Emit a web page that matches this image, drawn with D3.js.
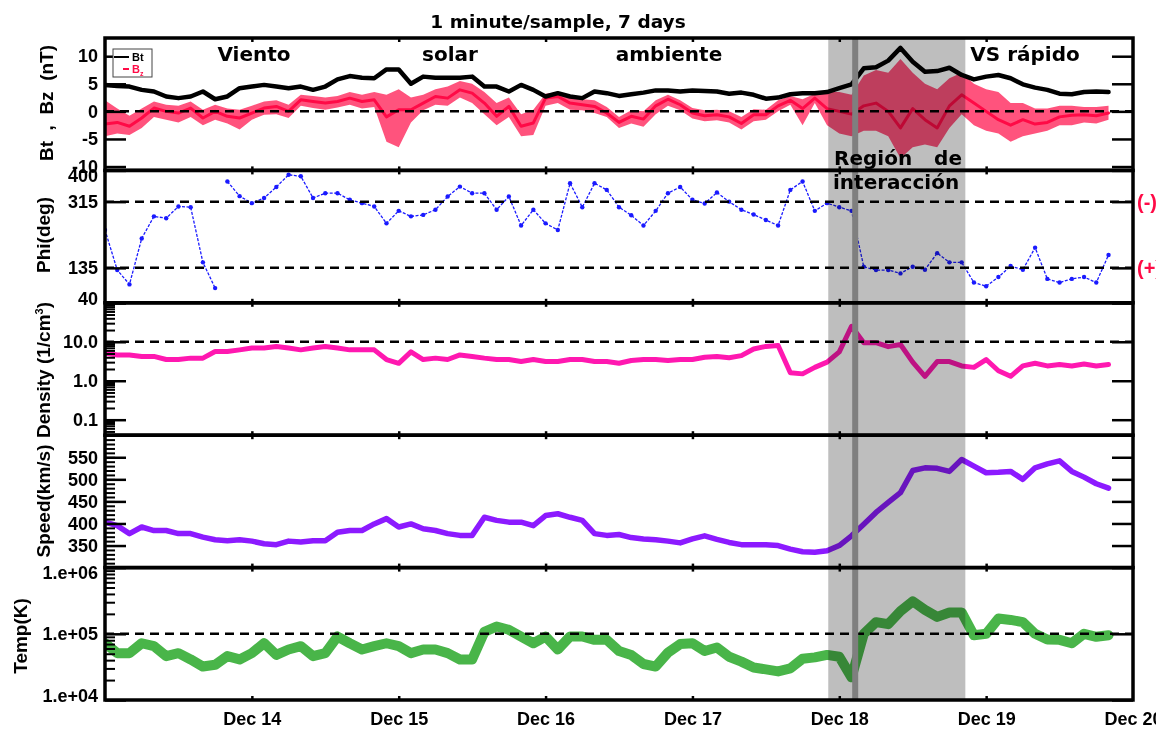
<!DOCTYPE html>
<html>
<head>
<meta charset="utf-8">
<script src="https://cdn.jsdelivr.net/npm/d3@7"></script>
<style>
body { margin: 0; background: #fff; }
svg { display: block; }
.tick text { font-family: 'Liberation Sans', Arial, sans-serif; font-weight: bold; font-size: 18px; fill: #000; }
.ytitle { font-family: 'Liberation Sans', Arial, sans-serif; font-weight: bold; font-size: 19px; white-space: pre; }
.note { font-family: 'DejaVu Sans', sans-serif; font-weight: bold; font-size: 20px; fill: #000; }
</style>
</head>
<body>
<script>
// hours since Dec 13 00:00, one reading every 2 hours
var hours = d3.range(0, 165, 2);

var bt = [4.8, 4.6, 4.5, 3.9, 3.6, 2.7, 2.4, 2.7, 3.6, 2.2,
    2.7, 4.2, 4.5, 4.8, 4.5, 4.2, 4.5, 3.9, 4.5, 5.8,
    6.4, 6.1, 6.0, 7.6, 7.6, 5.0, 6.3, 6.1, 6.1, 6.1,
    6.3, 4.5, 4.5, 3.6, 4.8, 3.9, 2.7, 3.3, 2.7, 2.4,
    3.6, 3.3, 2.8, 3.1, 3.4, 3.8, 3.8, 3.6, 3.8, 3.7,
    3.6, 3.2, 3.4, 3.0, 2.3, 2.5, 3.1, 3.3, 3.3, 3.5,
    4.2, 4.9, 7.8, 8.0, 9.2, 11.5, 9.0, 7.2, 7.3, 7.9,
    6.6, 5.8, 6.3, 6.6, 6.0, 4.9, 4.3, 3.9, 3.2, 3.1,
    3.5, 3.6, 3.5];

var bz = [-2.3, -2.0, -2.7, -1.2, 0.6, 0, -0.3, 0.6, -1.2, 0,
    -0.9, -1.2, -0.3, 0.6, 0.9, 0, 2.1, 1.8, 1.5, 1.8,
    2.4, 1.8, 2.1, -1.0, 0.3, 0.3, 1.5, 2.7, 2.4, 3.9,
    3.3, 1.5, -0.9, 0.9, -2.7, -2.1, 2.4, 2.7, 1.5, 1.2,
    0.9, -0.3, -2.0, -0.9, -1.4, 1.0, 2.2, 1.2, -0.3, -0.8,
    -0.6, -1.0, -2.2, -0.6, -0.6, 1.0, 2.0, 0.5, 2.4, 0.5,
    0.0, -0.5, 1.0, 1.5, 0.0, -3.0, 0.5, -1.5, -3.0, 1.0,
    3.0, 1.5, 0.0, -1.5, -2.5, -1.5, -2.3, -2.0, -1.0, -0.7,
    -0.6, -0.8, -0.3];

// lowest and highest Bz of the scatter in each 2 hour bin
var bzLow = [-4.5, -4.0, -4.3, -3.0, -1.0, -1.5, -2.0, -1.0, -2.5, -1.5,
    -2.2, -3.3, -1.5, -0.6, -0.5, -1.2, 1.0, 0.6, 0.3, 0.7,
    1.2, 0.5, 0.8, -5.5, -6.5, -2.0, 0.2, 1.2, 1.0, 2.5,
    1.5, -0.5, -2.5, -1.0, -4.5, -4.3, 1.0, 1.5, 0.3, 0.2,
    -0.3, -1.0, -3.0, -2.2, -2.8, -0.5, 1.0, 0.2, -1.3, -1.8,
    -1.6, -2.0, -3.3, -1.8, -1.5, 0, 1.2, -2.5, 1.5, -2.5,
    -4.0, -4.5, -3.5, -3.5, -4.5, -8.5, -6.5, -6.0, -6.5, -3.0,
    -0.5, -2.5, -3.5, -4.0, -5.5, -4.5, -4.0, -3.5, -2.5, -2.5,
    -2.0, -2.2, -1.5];

var bzHigh = [2.0, 0.5, -0.8, 0.5, 1.8, 1.2, 1.0, 1.8, 0.3, 1.2,
    0.5, 0.3, 1.0, 1.8, 2.0, 1.2, 3.0, 2.8, 2.5, 2.8,
    3.5, 3.0, 3.5, 3.0, 4.0, 2.5, 3.0, 4.0, 4.5, 5.5,
    5.0, 3.5, 1.5, 2.5, -0.5, 0.3, 3.2, 3.5, 2.5, 2.2,
    2.0, 0.8, -1.0, 0.2, 0, 2.0, 3.0, 2.0, 0.6, 0.2,
    0.3, 0, -1.0, 0.4, 0.3, 2.0, 2.8, 2.2, 3.2, 3.5,
    3.5, 3.0, 6.5, 7.5, 7.0, 9.5, 7.0, 5.0, 4.0, 6.0,
    7.0, 5.0, 4.0, 3.5, 1.5, 1.5, 0.5, 0.5, 1.0, 1.0,
    0.8, 0.8, 1.0];

var phi = [238, 129, 90, 215, 275, 270, 302, 300, 150, 80,
    370, 330, 311, 325, 355, 388, 384, 325, 338, 338,
    320, 311, 302, 256, 290, 275, 279, 293, 329, 356,
    338, 338, 293, 329, 250, 293, 256, 238, 365, 300,
    365, 347, 300, 278, 250, 290, 338, 355, 320, 310,
    340, 315, 293, 280, 265, 250, 347, 370, 290, 311,
    300, 290, 138, 129, 129, 120, 138, 130, 175, 150,
    150, 95, 85, 110, 140, 130, 190, 105, 95, 105,
    110, 95, 170];

var density = [5.1, 4.6, 4.6, 4.2, 4.2, 3.5, 3.5, 3.8, 3.8, 5.6,
    5.6, 6.2, 6.9, 6.9, 7.6, 6.9, 6.2, 6.9, 7.6, 6.9,
    6.2, 6.2, 6.2, 3.5, 2.8, 5.5, 3.5, 3.8, 3.5, 4.6,
    4.2, 3.8, 3.5, 3.5, 3.1, 3.5, 3.1, 3.1, 3.5, 3.5,
    3.1, 3.1, 2.8, 3.3, 3.5, 3.5, 3.3, 3.5, 3.5, 4.0,
    4.2, 3.9, 4.4, 6.5, 7.6, 8.0, 1.6, 1.5, 2.2, 3.0,
    5.5, 25, 9.5, 9.5, 7.5, 8.5, 3.0, 1.3, 3.1, 3.1,
    2.4, 2.2, 3.5, 1.8, 1.3, 2.4, 2.8, 2.4, 2.6, 2.4,
    2.7, 2.4, 2.6];

var speed = [403, 395, 377, 392, 384, 384, 377, 377, 369, 363,
    361, 363, 360, 354, 352, 360, 358, 361, 361, 380,
    384, 384, 399, 411, 392, 399, 388, 384, 377, 373,
    373, 414, 407, 403, 403, 395, 418, 422, 414, 407,
    377, 373, 375, 368, 365, 363, 360, 356, 365, 372,
    364, 357, 352, 352, 352, 350, 342, 336, 335, 338,
    350, 372, 398, 425, 448, 470, 520, 526, 525, 518,
    545, 530, 515, 516, 518, 500, 526, 535, 542, 518,
    505, 490, 480];

var temp = [72000, 51000, 51000, 72000, 65000, 46000, 51000, 41000, 32000, 34000,
    46000, 41000, 51000, 72000, 48000, 58000, 65000, 46000, 51000, 91000,
    72000, 58000, 65000, 72000, 65000, 51000, 58000, 58000, 51000, 41000,
    41000, 107000, 129000, 115000, 91000, 72000, 91000, 58000, 91000, 91000,
    81000, 81000, 55000, 48000, 35000, 32000, 52000, 70000, 72000, 55000,
    62000, 45000, 38000, 31000, 29000, 27000, 30000, 42000, 44000, 48000,
    45000, 22000, 100000, 150000, 140000, 220000, 310000, 230000, 180000, 210000,
    210000, 95000, 100000, 170000, 162000, 150000, 100000, 82000, 81000, 72000,
    100000, 90000, 95000];

var dayHours = [24, 48, 72, 96, 120, 144, 168];
var dayLabels = ["Dec 14", "Dec 15", "Dec 16", "Dec 17", "Dec 18", "Dec 19", "Dec 20"];

// interaction region and the dark line inside it (hours)
var regionHours = [118.2, 140.6];
var lineHour = 122.6;

var W = 1156, H = 731;
var left = 105, right = 1133, top0 = 38, bottom = 700;
var ph = (bottom - top0) / 5;
function pTop(i) { return top0 + i * ph; }

var svg = d3.select("body").append("svg")
    .attr("width", W)
    .attr("height", H);

var x = d3.scaleLinear().domain([0, 168]).range([left, right]);

var yB = d3.scaleLinear().domain([-10.7, 13.3]).range([pTop(1), pTop(0)]);
var yPhi = d3.scaleLinear().domain([40, 400]).range([pTop(2), pTop(1)]);
var yDen = d3.scaleLog().domain([0.04, 100]).range([pTop(3), pTop(2)]);
var ySpd = d3.scaleLinear().domain([300, 600]).range([pTop(4), pTop(3)]);
var yTmp = d3.scaleLog().domain([1e4, 1e6]).range([bottom, pTop(4)]);

//clip each panel
var defs = svg.append("defs");
for (var i = 0; i < 5; i++) {
    defs.append("clipPath").attr("id", "clip" + i)
        .append("rect")
        .attr("x", left).attr("y", pTop(i))
        .attr("width", right - left).attr("height", ph);
}

var data = svg.append("g");

function pts(vals) {
    return vals.map(function(v, i){ return [hours[i], v]; });
}

function drawSeries(panel, vals, y, color, width, opacity) {
    data.append("path")
        .datum(pts(vals))
        .attr("clip-path", "url(#clip" + panel + ")")
        .attr("fill", "none")
        .attr("stroke", color)
        .attr("stroke-width", width)
        .attr("stroke-opacity", opacity || 1)
        .attr("stroke-linejoin", "round")
        .attr("stroke-linecap", "round")
        .attr("d", d3.line().x(function(d){ return x(d[0]); }).y(function(d){ return y(d[1]); }));
}

//Bz scatter band
var red = "#ff0a46";
data.append("path")
    .datum(hours.map(function(h, i){ return [h, bzLow[i], bzHigh[i]]; }))
    .attr("clip-path", "url(#clip0)")
    .attr("fill", red)
    .attr("fill-opacity", 0.7)
    .attr("d", d3.area()
        .x(function(d){ return x(d[0]); })
        .y0(function(d){ return yB(d[1]); })
        .y1(function(d){ return yB(d[2]); }));
drawSeries(0, bz, yB, red, 3);
drawSeries(0, bt, yB, "#000", 4.5);

//phi: break the line where the angle wraps round
var phiColor = "#1a1aff";
var segs = [], cur = [];
phi.forEach(function(v, i){
    if (cur.length && Math.abs(v - cur[cur.length - 1][1]) > 200) { segs.push(cur); cur = []; }
    cur.push([hours[i], v]);
});
segs.push(cur);
segs.forEach(function(s){
    data.append("path")
        .datum(s)
        .attr("clip-path", "url(#clip1)")
        .attr("fill", "none")
        .attr("stroke", phiColor)
        .attr("stroke-width", 1.3)
        .attr("stroke-dasharray", "3,1.5")
        .attr("d", d3.line().x(function(d){ return x(d[0]); }).y(function(d){ return yPhi(d[1]); }));
});
data.append("g").attr("clip-path", "url(#clip1)")
    .selectAll("circle")
    .data(pts(phi))
    .enter()
    .append("circle")
    .attr("cx", function(d){ return x(d[0]); })
    .attr("cy", function(d){ return yPhi(d[1]); })
    .attr("r", 2.2)
    .attr("fill", phiColor);

drawSeries(2, density, yDen, "#ff18b0", 5);
drawSeries(3, speed, ySpd, "#8c1aff", 5.5);
drawSeries(4, temp, yTmp, "#16a016", 10, 0.78);

//dashed reference lines
var refs = [[yB, 0], [yPhi, 315], [yPhi, 135], [yDen, 10], [yTmp, 1e5]];
refs.forEach(function(r){
    svg.append("line")
        .attr("x1", left).attr("x2", right)
        .attr("y1", r[0](r[1])).attr("y2", r[0](r[1]))
        .attr("stroke", "#000")
        .attr("stroke-width", 2.5)
        .attr("stroke-dasharray", "9,6");
});

//interaction region
svg.append("rect")
    .attr("x", x(regionHours[0]))
    .attr("y", top0)
    .attr("width", x(regionHours[1]) - x(regionHours[0]))
    .attr("height", bottom - top0)
    .attr("fill", "#bebebe")
    .style("mix-blend-mode", "multiply");
svg.append("line")
    .attr("x1", x(lineHour)).attr("x2", x(lineHour))
    .attr("y1", top0).attr("y2", bottom)
    .attr("stroke", "#7f7f7f")
    .attr("stroke-width", 6);

//axes
var panels = [
    {y: yB, major: [-10, -5, 0, 5, 10], minor: [], fmt: function(d){ return String(d); }},
    {y: yPhi, major: [40, 135, 315, 400], minor: [], fmt: function(d){ return String(d); }},
    {y: yDen, major: [0.1, 1, 10, 100], minor: [], fmt: function(d){ return d >= 100 ? "" : d3.format(".1f")(d); }},
    {y: ySpd, major: [350, 400, 450, 500, 550], minor: d3.range(300, 601, 10), fmt: function(d){ return String(d); }},
    {y: yTmp, major: [1e4, 1e5, 1e6], minor: [], fmt: function(d){ return "1.e+0" + Math.round(Math.log10(d)); }}
];
[[yDen, [0.01, 0.1, 1, 10]], [yTmp, [1e4, 1e5]]].forEach(function(p){
    var list = p[0] === yDen ? panels[2].minor : panels[4].minor;
    p[1].forEach(function(dec){
        for (var k = 2; k < 10; k++) {
            var v = dec * k;
            var dom = p[0].domain();
            if (v > dom[0] && v < dom[1]) list.push(v);
        }
    });
});

panels.forEach(function(p, i){
    var t = pTop(i), b = pTop(i + 1);

    var gl = svg.append("g").attr("transform", "translate(" + left + ",0)");
    gl.call(d3.axisLeft(p.y).tickValues(p.minor).tickSize(-10).tickFormat(""));
    gl.call(function(g){ g.selectAll("line").attr("stroke-width", 2); g.select(".domain").remove(); });

    var gm = svg.append("g").attr("transform", "translate(" + left + ",0)");
    gm.call(d3.axisLeft(p.y).tickValues(p.major).tickSize(-21).tickPadding(7).tickFormat(p.fmt));
    gm.select(".domain").remove();
    gm.selectAll("line").attr("stroke-width", 2.5);
    gm.selectAll(".tick text").attr("y", function(d){
        var yy = p.y(d);
        return Math.max(t + 5, Math.min(b - 4, yy)) - yy;
    });

    var gr = svg.append("g").attr("transform", "translate(" + right + ",0)");
    gr.call(d3.axisRight(p.y).tickValues(p.minor).tickSize(-10).tickFormat(""));
    gr.call(d3.axisRight(p.y).tickValues(p.major).tickSize(-21).tickFormat(""));
    gr.select(".domain").remove();
    gr.selectAll("line").attr("stroke-width", 2.5);

    //day ticks on top and bottom of each panel
    svg.append("g").attr("transform", "translate(0," + b + ")")
        .call(d3.axisBottom(x).tickValues(dayHours.slice(0, 6)).tickSize(-4).tickFormat(""))
        .call(function(g){ g.select(".domain").remove(); g.selectAll("line").attr("stroke-width", 2.5); });
    svg.append("g").attr("transform", "translate(0," + t + ")")
        .call(d3.axisTop(x).tickValues(dayHours.slice(0, 6)).tickSize(-4).tickFormat(""))
        .call(function(g){ g.select(".domain").remove(); g.selectAll("line").attr("stroke-width", 2.5); });

    svg.append("rect")
        .attr("x", left).attr("y", t)
        .attr("width", right - left).attr("height", ph)
        .attr("fill", "none")
        .attr("stroke", "#000")
        .attr("stroke-width", 3.5);
});

//date labels
svg.append("g").attr("transform", "translate(0," + bottom + ")")
    .call(d3.axisBottom(x).tickValues(dayHours).tickSize(0).tickPadding(12)
        .tickFormat(function(d, i){ return dayLabels[i]; }))
    .call(function(g){ g.select(".domain").remove(); });

//axis titles
function ytitle(xx, yy, txt) {
    return svg.append("text")
        .attr("class", "ytitle")
        .attr("transform", "translate(" + xx + "," + yy + ") rotate(-90)")
        .attr("text-anchor", "middle")
        .text(txt);
}
ytitle(53, 103, "Bt  ,  Bz  (nT)");
ytitle(50, 235, "Phi(deg)");
var dt = svg.append("text")
    .attr("class", "ytitle")
    .attr("transform", "translate(50,370) rotate(-90)")
    .attr("text-anchor", "middle");
dt.append("tspan").text("Density (1/cm");
dt.append("tspan").attr("dy", -7).style("font-size", "11px").text("3");
dt.append("tspan").attr("dy", 7).text(")");
ytitle(50, 501, "Speed(km/s)");
ytitle(27, 636, "Temp(K)");

//title
svg.append("text")
    .attr("x", 558).attr("y", 28)
    .attr("text-anchor", "middle")
    .style("font-family", "'DejaVu Sans', sans-serif")
    .style("font-weight", "bold")
    .style("font-size", "18.5px")
    .text("1 minute/sample, 7 days");

//annotations
function note(xx, yy, txt, anchor) {
    svg.append("text").attr("class", "note")
        .attr("x", xx).attr("y", yy)
        .attr("text-anchor", anchor || "middle")
        .text(txt);
}
note(254, 61, "Viento");
note(450, 61, "solar");
note(669, 61, "ambiente");
note(1025, 61, "VS rápido");
note(834, 165, "Región", "start");
note(962, 165, "de", "end");
note(833, 189, "interacción", "start");

[["(-)", yPhi(315)], ["(+)", yPhi(135)]].forEach(function(s){
    svg.append("text")
        .attr("x", 1137).attr("y", s[1] + 7)
        .style("font-family", "'Liberation Sans', Arial, sans-serif")
        .style("font-weight", "bold")
        .style("font-size", "20px")
        .attr("fill", red)
        .text(s[0]);
});

//legend
var lg = svg.append("g");
lg.append("rect")
    .attr("x", 113).attr("y", 49).attr("width", 39).attr("height", 28)
    .attr("fill", "#fff").attr("stroke", "#444").attr("stroke-width", 1);
[["Bt", "#000", 57], ["B", red, 69]].forEach(function(l, i){
    lg.append("line")
        .attr("x1", i ? 123 : 114).attr("x2", 129)
        .attr("y1", l[2]).attr("y2", l[2])
        .attr("stroke", l[1]).attr("stroke-width", 2);
    var t = lg.append("text")
        .attr("x", 132).attr("y", l[2] + 4)
        .attr("fill", l[1])
        .style("font-family", "'Liberation Sans', Arial, sans-serif")
        .style("font-weight", "bold")
        .style("font-size", "11px")
        .text(l[0]);
    if (i) t.append("tspan").attr("dy", 3).style("font-size", "7px").text("z");
});
</script>
</body>
</html>
